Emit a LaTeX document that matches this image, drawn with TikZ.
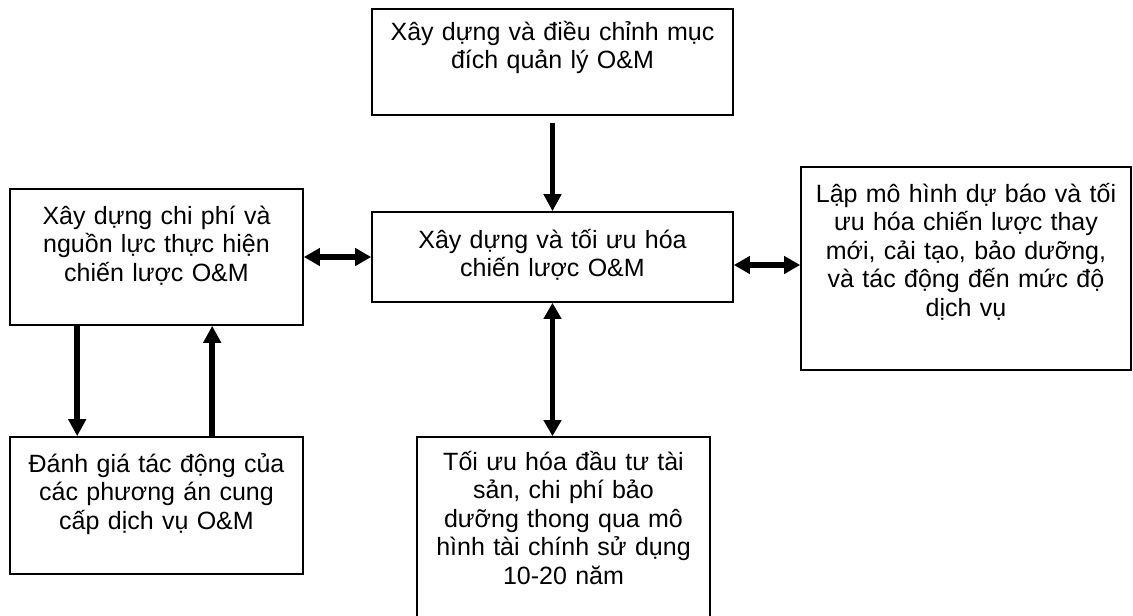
\documentclass[tikz,border=0pt]{standalone}
\usepackage{fontspec}
\setmainfont{Liberation Sans}
\usetikzlibrary{arrows.meta,positioning}

\begin{document}
\begin{tikzpicture}[x=1pt, y=-1pt]
  \useasboundingbox (0,0) rectangle (1133,616);

  % Stile.
  \tikzstyle{box}=[draw, line width=1.6pt, inner sep=0pt]
  \tikzstyle{txt}=[inner sep=0pt, align=center, anchor=base, font=\fontsize{25}{28.5}\selectfont]
  \tikzstyle{pfeil}=[line width=5.5pt, -{Triangle[length=17pt, width=17pt]}]
  \tikzstyle{doppel}=[line width=5.5pt, {Triangle[length=16pt, width=17pt]}-{Triangle[length=16pt, width=17pt]}]

  % Kästen.
  \node[box, minimum width=361pt, minimum height=106pt] (ziel) at (552.5, 62) {};
  \node[box, minimum width=361pt, minimum height=90pt] (strat) at (552.5, 257) {};
  \node[box, minimum width=293pt, minimum height=136pt] (kosten) at (156.5, 257) {};
  \node[box, minimum width=330pt, minimum height=203pt] (prognose) at (966, 268.5) {};
  \node[box, minimum width=293pt, minimum height=137pt] (bewert) at (156.5, 505.5) {};
  \node[box, minimum width=293pt, minimum height=183pt] (invest) at (563.5, 528.5) {};

  % Beschriftungen.
  \node[txt, text width=350pt] (ziel-t) at ([yshift=-32pt]ziel.north) {Xây dựng và điều chỉnh mục\\đích quản lý O\&M};
  \node[txt, text width=350pt] (strat-t) at ([yshift=-37pt]strat.north) {Xây dựng và tối ưu hóa\\chiến lược O\&M};
  \node[txt, text width=283pt] (kosten-t) at ([yshift=-36pt]kosten.north) {Xây dựng chi phí và\\nguồn lực thực hiện\\chiến lược O\&M};
  \node[txt, text width=320pt] (prognose-t) at ([yshift=-36pt]prognose.north) {Lập mô hình dự báo và tối\\ưu hóa chiến lược thay\\mới, cải tạo, bảo dưỡng,\\và tác động đến mức độ\\dịch vụ};
  \node[txt, text width=283pt] (bewert-t) at ([yshift=-36pt]bewert.north) {Đánh giá tác động của\\các phương án cung\\cấp dịch vụ O\&M};
  \node[txt, text width=283pt] (invest-t) at ([yshift=-34pt]invest.north) {Tối ưu hóa đầu tư tài\\sản, chi phí bảo\\dưỡng thong qua mô\\hình tài chính sử dụng\\10-20 năm};

  % Pfeile.
  \draw[pfeil] ([yshift=-7pt]ziel.south) -- (strat.north);
  \draw[doppel] (kosten.east) -- (strat.west);
  \draw[doppel] ([yshift=-8pt]strat.east) -- ([yshift=-8pt]strat.east -| prognose.west);
  \draw[doppel] (strat.south) -- (strat.south |- invest.north);
  \draw[pfeil] ([xshift=68pt]kosten.south west) -- ([xshift=68pt]bewert.north west);
  \draw[pfeil] ([xshift=203pt]bewert.north west) -- ([xshift=203pt]kosten.south west);
\end{tikzpicture}
\end{document}
